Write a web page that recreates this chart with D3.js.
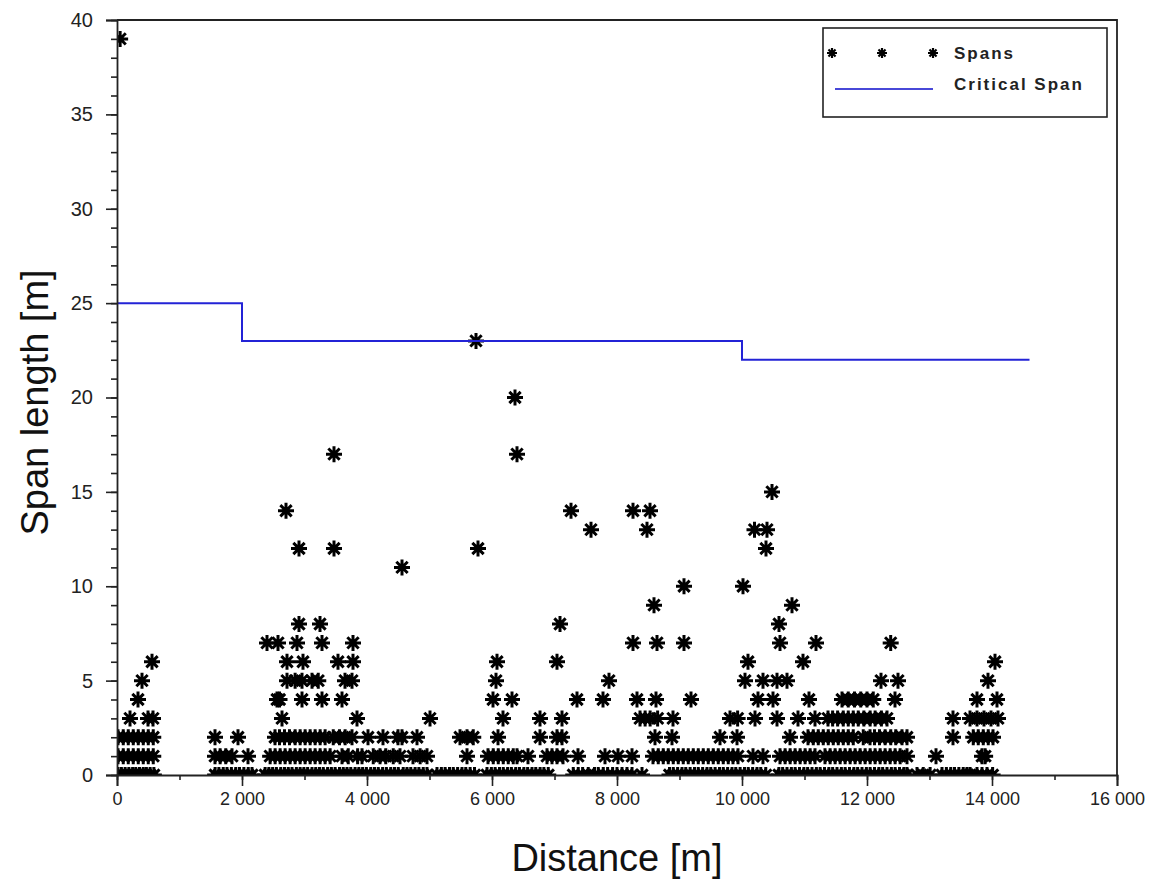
<!DOCTYPE html>
<html>
<head>
<meta charset="utf-8">
<script src="https://cdn.jsdelivr.net/npm/d3@7"></script>
<style>
  body { margin: 0; background: #fff; }
  svg { display: block; font-family: "Liberation Sans", Arial, sans-serif; }
</style>
</head>
<body>
<svg id="chart" width="1165" height="891"></svg>
<script>
// distances [m] of the spans, grouped by span length [m]
const span0 = [16, 70, 130, 190, 250, 300, 360, 420, 470, 530, 590,
  1570, 1630, 1700, 1760, 1830, 1900, 1960, 2030, 2100, 2160,
  2370, 2430, 2490, 2550, 2620, 2680, 2740, 2800, 2870, 2930, 2990, 3050, 3120, 3180, 3240, 3300,
  3370, 3430, 3490, 3560, 3620, 3680, 3740, 3810, 3870, 3930, 3990, 4060, 4120, 4180, 4250, 4310,
  4380, 4440, 4500, 4580, 4640, 4700, 4770, 4830, 4900, 4960,
  5120, 5190, 5250, 5320, 5380, 5450, 5520, 5580, 5650, 5720,
  5920, 5990, 6050, 6120, 6180, 6250, 6310, 6380, 6440, 6510, 6570, 6640, 6700, 6770, 6830, 6900,
  7300, 7380, 7450, 7540, 7640, 7700, 7780, 7850, 7930, 8000, 8080, 8160, 8240, 8400,
  8840, 8900, 8970, 9040, 9100, 9170, 9240, 9300, 9370, 9440, 9500, 9570, 9640, 9700, 9770, 9840,
  9900, 9970, 10040, 10100, 10170, 10240, 10300, 10380,
  10590, 10650, 10720, 10790, 10850, 10920, 10990, 11050, 11120, 11190, 11250, 11320, 11390, 11450,
  11520, 11590, 11650, 11720, 11790, 11850, 11920, 11990, 12050, 12120, 12190, 12250, 12320, 12390,
  12450, 12520, 12590, 12640, 12800, 12900, 13010,
  13200, 13270, 13340, 13400, 13470, 13540, 13600, 13650, 13760, 13840, 13920, 14010];
const span1 = [16, 100, 180, 260, 340, 420, 500, 580, 1568, 1650, 1740, 1840, 2096,
  2450, 2530, 2610, 2690, 2770, 2850, 2930, 3010, 3090, 3170, 3250, 3330, 3410, 3600, 3700, 3850,
  3920, 4100, 4208, 4300, 4420, 4528, 4736, 4850, 4960, 5600, 5936, 6020, 6100, 6180, 6260, 6340,
  6400, 6576, 6880, 6960, 7040, 7136, 7376, 7808, 8016, 8240, 8576, 8660, 8740, 8820, 8900, 8980,
  9060, 9140, 9220, 9300, 9380, 9460, 9540, 9620, 9700, 9780, 9856, 9936, 10176, 10336,
  10608, 10690, 10770, 10850, 10930, 11010, 11090, 11168, 11328, 11410, 11490, 11570, 11650, 11730,
  11810, 11890, 11970, 12050, 12130, 12210, 12290, 12370, 12450, 12530, 12640, 13104, 13840, 13890];
const span2 = [16, 100, 180, 260, 340, 420, 500, 580, 1568, 1936,
  2528, 2600, 2680, 2760, 2850, 2930, 3010, 3090, 3170, 3250, 3330, 3460, 3560, 3650, 3760,
  4016, 4256, 4496, 4560, 4800, 5488, 5600, 5700, 6096, 6768, 7040, 7120, 8608, 8880, 9648, 9920,
  10768, 11056, 11140, 11220, 11300, 11380, 11460, 11540, 11620, 11700, 11780, 11940, 12048, 12120,
  12200, 12290, 12380, 12460, 12560, 12640, 13376, 13700, 13780, 13860, 13940, 14016];
const span3 = [208, 496, 576, 2640, 3840, 5008, 6176, 6768, 7120, 8368, 8450, 8530, 8650, 8896,
  9808, 9930, 10208, 10560, 10896, 11168, 11376, 11450, 11530, 11620, 11700, 11780, 11860, 11950,
  12050, 12130, 12230, 12320, 13376, 13648, 13760, 13872, 13984, 14096];
const span4 = [336, 2560, 2600, 2960, 3280, 3600, 6016, 6320, 7360, 7776, 8320, 8624, 9184,
  10256, 10496, 11072, 11600, 11700, 11800, 11900, 12000, 12100, 12448, 13760, 14080];
const span5 = [400, 2720, 2850, 2960, 3120, 3220, 3648, 3760, 6064, 7872, 10048, 10336, 10560,
  10720, 12224, 12496, 13936];
const span6 = [560, 2720, 2976, 3536, 3776, 6080, 7040, 10096, 10976, 14048];
const span7 = [2400, 2576, 2880, 3280, 3776, 8256, 8640, 9072, 10608, 11184, 12379];
const span8 = [2912, 3248, 7088, 10592];
const span9 = [8592, 10800];
const span10 = [9072, 10016];
const span11 = [4560];
const span12 = [2912, 3472, 5776, 10384];
const span13 = [7584, 8480, 10200, 10400];
const span14 = [2704, 7264, 8256, 8528];
const span15 = [10480];
const span17 = [3472, 6400];
const span20 = [6368];
const span23 = [5744];
const span39 = [50];

const spanGroups = [
  [0, span0], [1, span1], [2, span2], [3, span3], [4, span4], [5, span5], [6, span6],
  [7, span7], [8, span8], [9, span9], [10, span10], [11, span11], [12, span12], [13, span13],
  [14, span14], [15, span15], [17, span17], [20, span20], [23, span23], [39, span39]
];

// critical span, step changes at the given distances
const criticalDist = [0, 2000, 10000, 14600];
const criticalSpan = [25, 23, 22, 22];

const xTicks = [0, 2000, 4000, 6000, 8000, 10000, 12000, 14000, 16000];
const yTicks = [0, 5, 10, 15, 20, 25, 30, 35, 40];

const legendLabels = ["Spans", "Critical Span"];

const svg = d3.select('#chart');
const plotLeft = 117, plotRight = 1117, plotTop = 20, plotBottom = 775;

const x = d3.scaleLinear().domain([0, 16000]).range([plotLeft, plotRight]);
const y = d3.scaleLinear().domain([0, 40]).range([plotBottom, plotTop]);

let points = [];
spanGroups.forEach(([len, dists]) => {
  dists.forEach(d => points.push({ dist: d, span: len }));
});

svg.append('defs').append('clipPath').attr('id', 'plotClip')
  .append('rect')
  .attr('x', plotLeft).attr('y', plotTop)
  .attr('width', plotRight - plotLeft).attr('height', plotBottom - plotTop);

function star(r) {
  let p = '';
  [0, 45, 90, 135].forEach(a => {
    const c = Math.cos(a * Math.PI / 180) * r, s = Math.sin(a * Math.PI / 180) * r;
    p += `M${-c},${-s}L${c},${s}`;
  });
  return p;
}

// markers
svg.append('g')
  .attr('clip-path', 'url(#plotClip)')
  .selectAll('path')
  .data(points)
  .join('path')
  .attr('transform', d => `translate(${x(d.dist)},${y(d.span)})`)
  .attr('d', star(8))
  .attr('stroke', '#000')
  .attr('stroke-width', 3)
  .attr('fill', 'none');

// critical span line
const critData = criticalDist.map((d, i) => ({ dist: d, span: criticalSpan[i] }));
svg.append('path')
  .datum(critData)
  .attr('d', d3.line().x(d => x(d.dist)).y(d => y(d.span)).curve(d3.curveStepAfter))
  .attr('fill', 'none')
  .attr('stroke', '#2323d6')
  .attr('stroke-width', 2);

const fmt = d => d3.format(',')(d).replace(/,/g, ' ');

// minor ticks
svg.append('g')
  .attr('transform', `translate(0,${plotBottom})`)
  .call(d3.axisBottom(x).tickValues(d3.range(0, 16001, 1000)).tickSize(5).tickFormat(''))
  .call(g => g.select('.domain').remove());
svg.append('g')
  .attr('transform', `translate(${plotLeft},0)`)
  .call(d3.axisLeft(y).tickValues(d3.range(0, 41, 1)).tickSize(6).tickFormat(''))
  .call(g => g.select('.domain').remove());

const xAxis = svg.append('g')
  .attr('transform', `translate(0,${plotBottom})`)
  .call(d3.axisBottom(x).tickValues(xTicks).tickSize(11).tickPadding(6).tickFormat(fmt));
xAxis.selectAll('text').attr('font-size', 18).attr('fill', '#222');

const yAxis = svg.append('g')
  .attr('transform', `translate(${plotLeft},0)`)
  .call(d3.axisLeft(y).tickValues(yTicks).tickSize(11).tickPadding(13));
yAxis.selectAll('text').attr('font-size', 20).attr('fill', '#222');

svg.selectAll('.tick line').attr('stroke', '#222').attr('stroke-width', 1.6);
svg.selectAll('.domain').attr('stroke', '#222').attr('stroke-width', 1.8);

// frame top/right
svg.append('path')
  .attr('d', `M${plotLeft},${plotTop}H${plotRight}V${plotBottom}`)
  .attr('fill', 'none').attr('stroke', '#222').attr('stroke-width', 1.8);

// titles
svg.append('text')
  .attr('x', (plotLeft + plotRight) / 2).attr('y', 871)
  .attr('text-anchor', 'middle').attr('font-size', 38).attr('fill', '#111')
  .text('Distance [m]');
svg.append('text')
  .attr('transform', `translate(48,${(plotTop + plotBottom) / 2 + 5}) rotate(-90)`)
  .attr('text-anchor', 'middle').attr('font-size', 38).attr('fill', '#111')
  .text('Span length [m]');

// legend
const lg = svg.append('g');
lg.append('rect')
  .attr('x', 823).attr('y', 28).attr('width', 284).attr('height', 89)
  .attr('fill', '#fff').attr('stroke', '#222').attr('stroke-width', 1.6);
lg.selectAll('path.lm')
  .data([832, 882, 933])
  .join('path')
  .attr('class', 'lm')
  .attr('transform', d => `translate(${d},53)`)
  .attr('d', star(5))
  .attr('stroke', '#000').attr('stroke-width', 2.2).attr('fill', 'none');
lg.append('line')
  .attr('x1', 835).attr('x2', 933).attr('y1', 89).attr('y2', 89)
  .attr('stroke', '#4848d8').attr('stroke-width', 2);
lg.selectAll('text')
  .data(legendLabels)
  .join('text')
  .attr('x', 954).attr('y', (d, i) => 59 + i * 31)
  .attr('font-size', 17).attr('font-weight', 'bold').attr('letter-spacing', 2)
  .attr('fill', '#222')
  .text(d => d);
</script>
</body>
</html>
